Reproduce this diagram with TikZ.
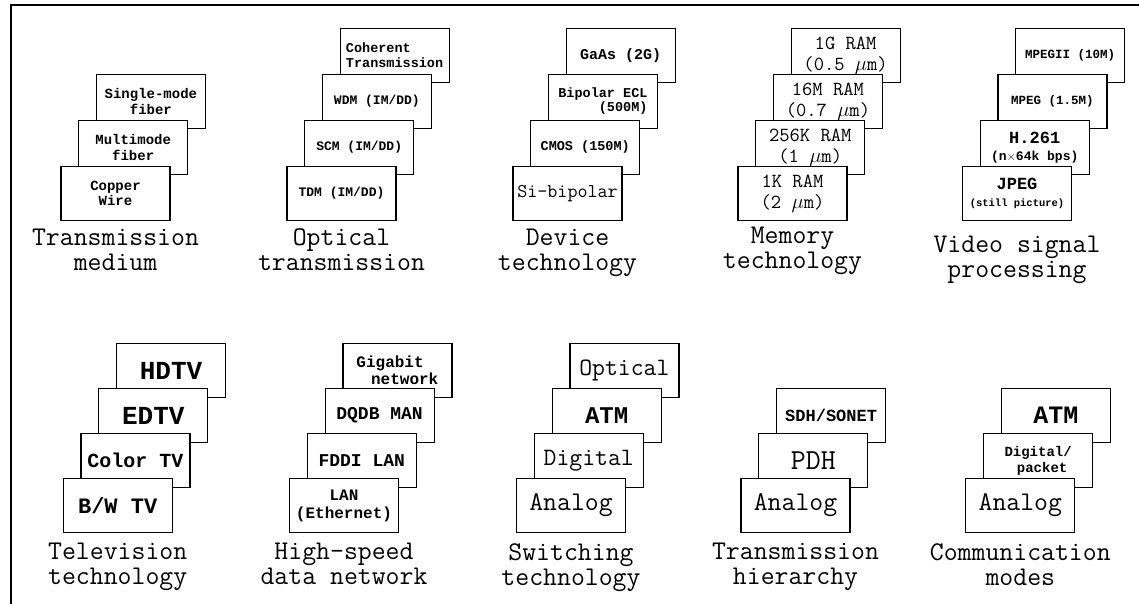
\documentclass[tikz,border=0pt]{standalone}
\usepackage{fontspec}
\newfontfamily\cardfont{Liberation Mono}
\usetikzlibrary{positioning}

\begin{document}
\begin{tikzpicture}[x=1pt, y=1pt,
    card/.style={draw, fill=white, line width=1.2pt, minimum width=109pt, minimum height=54pt, inner sep=2pt, align=center},
    boldtext/.style 2 args={font=\cardfont\bfseries\fontsize{#1}{#2}\selectfont},
    typetext/.style 2 args={font=\ttfamily\fontsize{#1}{#2}\selectfont},
    grouplabel/.style={font=\ttfamily\fontsize{27}{25}\selectfont, align=center, inner sep=0pt}]
    \useasboundingbox (0,0) rectangle (1139,604);

    % Frame
    \draw[line width=1.5pt] (11,0) -- (11,599) -- (1139,599);

    % Transmission medium
    \node[card, boldtext={14}{15.5}] (tm3) at (150.9,502.5) {Single-mode\\fiber};
    \node[card, boldtext={14}{15.5}] (tm2) at ([shift={(-17.7,-46)}]tm3) {Multimode\\fiber};
    \node[card, boldtext={14}{15.5}] (tm1) at ([shift={(-17.7,-46)}]tm2) {Copper\\Wire};
    \node[grouplabel, below=8pt of tm1] (tmlabel) {Transmission\\medium};

    % Optical transmission
    \node[card, boldtext={13.5}{15}, align=left] (ot4) at (394.6,548.5) {Coherent\\Transmission};
    \node[card, boldtext={13}{15}] (ot3) at ([shift={(-17.7,-46)}]ot4) {WDM (IM/DD)};
    \node[card, boldtext={13}{15}] (ot2) at ([shift={(-17.7,-46)}]ot3) {SCM (IM/DD)};
    \node[card, boldtext={13}{15}] (ot1) at ([shift={(-17.7,-46)}]ot2) {TDM (IM/DD)};
    \node[grouplabel, below=7pt of ot1] (otlabel) {Optical\\transmission};

    % Device technology
    \node[card, boldtext={15}{16}] (dt4) at (620.6,548.5) {GaAs (2G)};
    \node[card, boldtext={13.5}{14}, align=right] (dt3) at ([shift={(-17.7,-46)}]dt4) {Bipolar ECL\\(500M)};
    \node[card, boldtext={13.5}{15}] (dt2) at ([shift={(-17.7,-46)}]dt3) {CMOS (150M)};
    \node[card, typetext={19.5}{21}] (dt1) at ([shift={(-17.7,-46)}]dt2) {Si-bipolar};
    \node[grouplabel, below=8pt of dt1] (dtlabel) {Device\\technology};

    % Memory technology
    \node[card, typetext={20}{21}] (mt4) at (845.6,548.5) {1G RAM\\(0.5 $\mu$m)};
    \node[card, typetext={20}{21}] (mt3) at ([shift={(-17.7,-46)}]mt4) {16M RAM\\(0.7 $\mu$m)};
    \node[card, typetext={20}{21}] (mt2) at ([shift={(-17.7,-46)}]mt3) {256K RAM\\(1 $\mu$m)};
    \node[card, typetext={20}{21}] (mt1) at ([shift={(-17.7,-46)}]mt2) {1K RAM\\(2 $\mu$m)};
    \node[grouplabel, below=6pt of mt1] (mtlabel) {Memory\\technology};

    % Video signal processing
    \node[card, boldtext={12.5}{14}] (vp4) at (1070.1,548.5) {MPEGII (10M)};
    \node[card, boldtext={12.5}{14}] (vp3) at ([shift={(-17.7,-46)}]vp4) {MPEG (1.5M)};
    \node[card, boldtext={13}{17}] (vp2) at ([shift={(-17.7,-46)}]vp3) {{\fontsize{17}{18}\selectfont H.261}\\(n$\times$64k bps)};
    \node[card, boldtext={10.5}{17}] (vp1) at ([shift={(-17.7,-46)}]vp2) {{\fontsize{17}{18}\selectfont JPEG}\\(still picture)};
    \node[grouplabel, below=15pt of vp1] (vplabel) {Video signal\\processing};

    % Television technology
    \node[card, boldtext={26}{28}] (tv4) at (171.1,233.5) {HDTV};
    \node[card, boldtext={26}{28}] (tv3) at ([shift={(-17.8,-45)}]tv4) {EDTV};
    \node[card, boldtext={20}{22}] (tv2) at ([shift={(-17.8,-45)}]tv3) {Color TV};
    \node[card, boldtext={22}{24}] (tv1) at ([shift={(-17.8,-45)}]tv2) {B/W TV};
    \node[grouplabel, below=10pt of tv1] (tvlabel) {Television\\technology};

    % High-speed data network
    \node[card, boldtext={16}{17}, align=left] (hs4) at (397.4,233.5) {Gigabit\\\phantom{i}\kern5pt network};
    \node[card, boldtext={18}{20}] (hs3) at ([shift={(-17.8,-45)}]hs4) {DQDB MAN};
    \node[card, boldtext={18}{20}] (hs2) at ([shift={(-17.8,-45)}]hs3) {FDDI LAN};
    \node[card, boldtext={16}{18}] (hs1) at ([shift={(-17.8,-45)}]hs2) {LAN\\(Ethernet)};
    \node[grouplabel, below=10pt of hs1] (hslabel) {High-speed\\data network};

    % Switching technology
    \node[card, typetext={25}{27}] (sw4) at (624.4,233.5) {Optical};
    \node[card, boldtext={24}{26}] (sw3) at ([shift={(-17.8,-45)}]sw4) {ATM};
    \node[card, typetext={25}{27}] (sw2) at ([shift={(-17.8,-45)}]sw3) {Digital};
    \node[card, typetext={27}{29}] (sw1) at ([shift={(-17.8,-45)}]sw2) {Analog};
    \node[grouplabel, below=10pt of sw1] (swlabel) {Switching\\technology};

    % Transmission hierarchy
    \node[card, boldtext={17}{19}] (th3) at (831.1,188.5) {SDH/SONET};
    \node[card, typetext={29}{30}] (th2) at ([shift={(-17.8,-45)}]th3) {PDH};
    \node[card, typetext={27}{29}] (th1) at ([shift={(-17.8,-45)}]th2) {Analog};
    \node[grouplabel, below=10pt of th1] (thlabel) {Transmission\\hierarchy};

    % Communication modes
    \node[card, boldtext={25}{27}] (cm3) at (1055.9,188.5) {ATM};
    \node[card, boldtext={14}{16}, align=left] (cm2) at ([shift={(-17.8,-45)}]cm3) {Digital/\\\phantom{i}\kern4pt packet};
    \node[card, typetext={27}{29}] (cm1) at ([shift={(-17.8,-45)}]cm2) {Analog};
    \node[grouplabel, below=10pt of cm1] (cmlabel) {Communication\\modes};
\end{tikzpicture}
\end{document}
